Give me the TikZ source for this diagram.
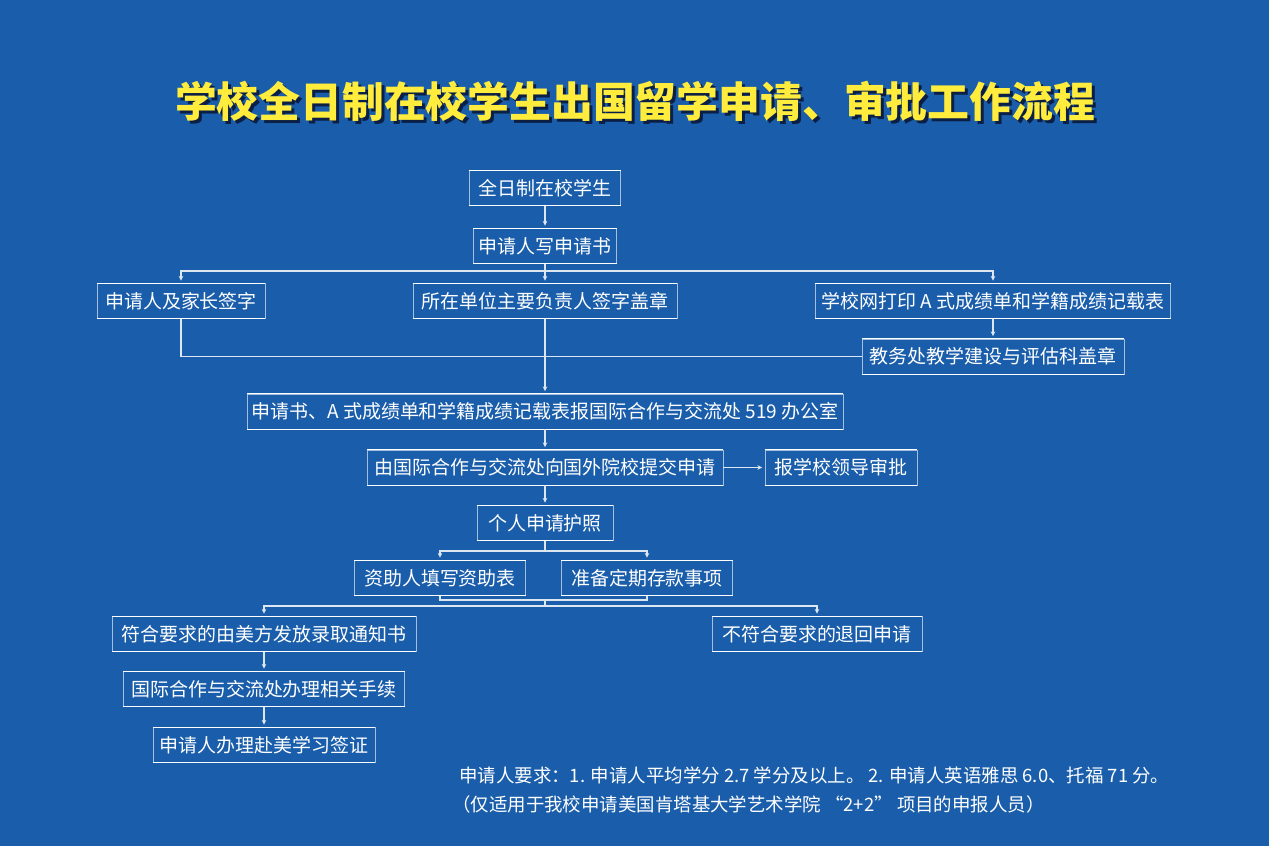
\documentclass[tikz,border=0pt]{standalone}
\usepackage{fontspec}
\newfontfamily\cjk{Noto Sans CJK SC}
\usetikzlibrary{arrows.meta}
\definecolor{bgblue}{RGB}{26,94,171}
\definecolor{titleyellow}{RGB}{255,236,60}
\definecolor{shade}{RGB}{10,30,70}
\newcommand\titletext{学校全日制在校学生出国留学申请、审批工作流程}

\begin{document}
\begin{tikzpicture}[x=0.02cm,y=-0.02cm,
    rim/.style={draw=white,line width=0.7pt},
    box/.style={draw=white!60!bgblue,line width=0.4pt,text=white,inner xsep=2pt,inner ysep=0pt,
      minimum height=0.7cm,font=\cjk\fontsize{10.8}{12}\selectfont,
      append after command={(\tikzlastnode.north west) edge[rim] (\tikzlastnode.north east)
        (\tikzlastnode.south west) edge[rim] (\tikzlastnode.south east)}},
    link/.style={draw=white!85!bgblue,line width=0.6pt},
    flow/.style={link,-{Stealth[length=2.6pt,width=2.6pt]},shorten >=1.5pt},
    note/.style={text=white,anchor=west,font=\cjk\fontsize{10.5}{12}\selectfont}]
  \fill[bgblue] (0,0) rectangle (1269,846);
  \useasboundingbox (0,0) rectangle (1269,846);

  % title with its shadow
  \node[text=titleyellow,font=\cjk\bfseries\fontsize{23.8}{26}\selectfont] (title) at (635,103)
    {\rlap{\kern1.7pt\raisebox{-1.7pt}{\color{shade}\titletext}}\titletext};

  % steps
  \node[box,minimum width=3.02cm] (full) at (545,188) {全日制在校学生};
  \node[box,minimum width=2.86cm] (write) at (545,246) {申请人写申请书};
  \node[box,minimum width=3.36cm] (parent) at (181,301) {申请人及家长签字};
  \node[box,minimum width=5.28cm] (unit) at (545,301) {所在单位主要负责人签字盖章};
  \node[box,minimum width=7.1cm] (print) at (993,301) {学校网打印 A 式成绩单和学籍成绩记载表};
  \node[box,minimum width=5.24cm] (stamp) at (993,356.5) {教务处教学建设与评估科盖章};
  \node[box,minimum width=11.92cm] (submit) at (545,411.5) {申请书、A 式成绩单和学籍成绩记载表报国际合作与交流处 519 办公室};
  \node[box,minimum width=7.12cm] (apply) at (545,467.5) {由国际合作与交流处向国外院校提交申请};
  \node[box,minimum width=3.04cm] (leader) at (841,467.5) {报学校领导审批};
  \node[box,minimum width=2.72cm] (passport) at (545,523) {个人申请护照};
  \node[box,minimum width=3.42cm] (sponsor) at (440,578) {资助人填写资助表};
  \node[box,minimum width=3.42cm] (deposit) at (647,578) {准备定期存款事项};
  \node[box,minimum width=6.08cm] (admit) at (264,634) {符合要求的由美方发放录取通知书};
  \node[box,minimum width=4.2cm] (reject) at (817,634) {不符合要求的退回申请};
  \node[box,minimum width=5.62cm] (process) at (264,689) {国际合作与交流处办理相关手续};
  \node[box,minimum width=4.44cm] (visa) at (264,745) {申请人办理赴美学习签证};

  % branch points
  \coordinate (split1) at (545,271);
  \coordinate (split2) at (545,551);
  \coordinate (join) at (545,600);
  \coordinate (split3) at (545,606);

  % connectors
  \path[flow] (full) -- (write);
  \path[link] (write) -- (split1);
  \path[flow] (split1) -| (parent);
  \path[flow] (split1) -- (unit);
  \path[flow] (split1) -| (print);
  \path[flow] (print) -- (stamp);
  \path[link] (parent) |- (stamp);
  \path[flow] (unit) -- (submit);
  \path[flow] (submit) -- (apply);
  \path[flow] (apply) -- (leader);
  \path[flow] (apply) -- (passport);
  \path[link] (passport) -- (split2);
  \path[flow] (split2) -| (sponsor);
  \path[flow] (split2) -| (deposit);
  \path[link] (sponsor.south) |- (join) -| (deposit.south);
  \path[link] (join) -- (split3);
  \path[flow] (split3) -| (admit);
  \path[flow] (split3) -| (reject);
  \path[flow] (admit) -- (process);
  \path[flow] (process) -- (visa);

  % requirements
  \node[note] (req) at (453,775) {申请人要求：1. 申请人平均学分 2.7 学分及以上。 2. 申请人英语雅思 6.0、托福 71 分。};
  \node[note] (scope) at (446,804) {（仅适用于我校申请美国肯塔基大学艺术学院 “2+2” 项目的申报人员）};
\end{tikzpicture}
\end{document}
